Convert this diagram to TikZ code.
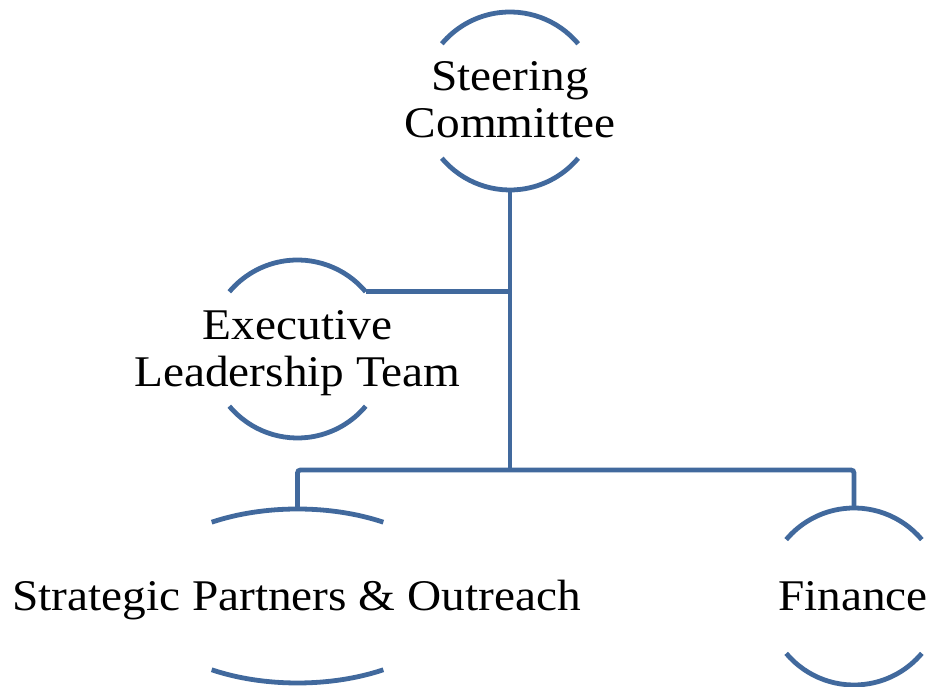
\documentclass[tikz,border=0pt]{standalone}
\usepackage{fontspec}
\setmainfont[FakeStretch=1.08]{Liberation Serif}
\usetikzlibrary{calc}
\definecolor{linkblue}{RGB}{65,105,157}
\begin{document}
\begin{tikzpicture}[x=1pt,y=1pt,
  link/.style={draw=linkblue,line width=4.8pt},
  ring/.style={draw=linkblue,line width=4.8pt},
  lbl/.style={inner sep=0pt,align=center,font=\fontsize{43.8}{47}\selectfont}]
\useasboundingbox (0,0) rectangle (930,687);

% unit centres
\coordinate (sc) at (510,586);
\coordinate (el) at (297.5,338);
\coordinate (sp) at (297.5,91);
\coordinate (fi) at (854,90.5);

% Steering Committee
\draw[ring] ($(sc)+(40:89)$) arc[start angle=40,end angle=140,radius=89];
\draw[ring] ($(sc)+(220:89)$) arc[start angle=220,end angle=320,radius=89];
\coordinate (scB) at ($(sc)+(0,-89)$);
\node[lbl,anchor=base] (scT) at (510,549) {Steering\\Committee};

% Executive Leadership Team
\draw[ring] ($(el)+(40:89)$) coordinate (elE) arc[start angle=40,end angle=140,radius=89];
\draw[ring] ($(el)+(220:89)$) arc[start angle=220,end angle=320,radius=89];
\node[lbl,anchor=base] (elT) at (297.5,300) {Executive\\Leadership Team};

% Strategic Partners & Outreach
\draw[ring] ($(sp)+({162*cos(58)},{87*sin(58)})$) arc[start angle=58,end angle=122,x radius=162,y radius=87];
\draw[ring] ($(sp)+({162*cos(238)},{87*sin(238)})$) arc[start angle=238,end angle=302,x radius=162,y radius=87];
\coordinate (spT) at ($(sp)+(0,87)$);
\node[lbl,anchor=base] (spL) at (296.5,76) {Strategic Partners \& Outreach};

% Finance
\draw[ring] ($(fi)+(40:88.5)$) arc[start angle=40,end angle=140,radius=88.5];
\draw[ring] ($(fi)+(220:88.5)$) arc[start angle=220,end angle=320,radius=88.5];
\coordinate (fiT) at ($(fi)+(0,88.5)$);
\node[lbl,anchor=base] (fiL) at (853,76) {Finance};

% connectors
\coordinate (trunk) at (510,217);
\draw[link] (scB) -- (trunk);
\draw[link] (elE) -- (elE -| trunk);
\draw[link,rounded corners=3pt] (spT) -- (spT |- trunk) -- (fiT |- trunk) -- (fiT);
\end{tikzpicture}
\end{document}
